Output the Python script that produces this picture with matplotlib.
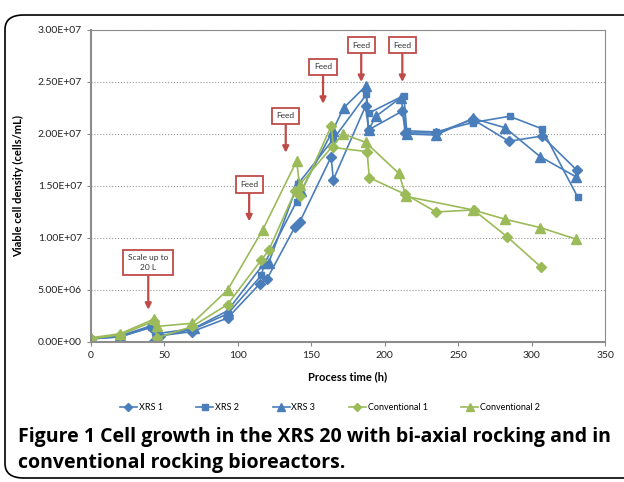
import matplotlib
matplotlib.use('Agg')
import matplotlib.pyplot as plt
import matplotlib.ticker as ticker
from matplotlib.patches import FancyBboxPatch

plt.rcParams['font.family'] = ['Lato', 'DejaVu Sans']

# Data (time in h, density in cells/mL)
xrs1_t = [0, 20, 41, 43, 47, 69, 93, 115, 120, 139, 142, 163.5, 165, 187, 189, 212, 214, 235, 260, 284.5, 307, 331]
xrs1_v = [0.3e6, 0.5e6, 1.4e6, 0.1e6, 0.6e6, 1.0e6, 2.3e6, 5.6e6, 6.1e6, 11.1e6, 11.5e6, 17.8e6, 15.6e6,
          22.7e6, 20.4e6, 22.2e6, 20.1e6, 20.1e6, 21.4e6, 19.3e6, 19.8e6, 16.5e6]

xrs2_t = [0, 20, 41, 44, 69, 93, 116, 118, 140, 141, 165, 187.5, 189, 213, 215, 235, 260, 285, 307, 331.5]
xrs2_v = [0.3e6, 0.5e6, 1.5e6, 0.5e6, 1.2e6, 2.7e6, 6.4e6, 7.5e6, 13.5e6, 15.2e6, 19.5e6, 23.8e6, 22.0e6,
          23.7e6, 20.3e6, 20.2e6, 21.1e6, 21.7e6, 20.5e6, 13.9e6]

xrs3_t = [0, 20, 42, 45, 70, 93, 118, 121, 141, 143, 164.5, 172, 187, 189, 194, 211, 215, 235, 260, 282, 306, 330]
xrs3_v = [0.3e6, 0.6e6, 1.6e6, 0.8e6, 1.3e6, 3.0e6, 7.6e6, 7.6e6, 15.3e6, 14.5e6, 20.3e6, 22.5e6, 24.6e6,
          20.4e6, 21.7e6, 23.5e6, 20.0e6, 19.9e6, 21.5e6, 20.6e6, 17.8e6, 15.9e6]

conv1_t = [0, 20, 43, 45, 69, 93, 116, 121, 139, 142, 163.7, 165, 188, 189.5, 214, 235, 260.5, 283.5, 306.5]
conv1_v = [0.3e6, 0.7e6, 2.0e6, 0.4e6, 1.5e6, 3.6e6, 7.9e6, 8.8e6, 14.5e6, 14.0e6, 20.8e6, 18.7e6, 18.3e6,
           15.8e6, 14.2e6, 12.5e6, 12.7e6, 10.1e6, 7.2e6]

conv2_t = [0, 20, 43, 45, 69, 93, 117, 140, 142, 171.5, 187, 209.7, 214.5, 260, 282, 306, 330]
conv2_v = [0.4e6, 0.8e6, 2.2e6, 1.5e6, 1.8e6, 5.0e6, 10.8e6, 17.4e6, 15.1e6, 20.0e6, 19.2e6, 16.2e6,
           14.0e6, 12.7e6, 11.8e6, 11.0e6, 9.9e6]

# Annotations: label, arrow tip (time, density)
note_labels = ['Scale up to\n20 L', 'Feed', 'Feed', 'Feed', 'Feed', 'Feed']
note_t = [39, 107.7, 132.6, 158, 184, 212]
note_v = [3.1e6, 11.6e6, 18.2e6, 22.9e6, 25.0e6, 25.0e6]

blue = '#4A7EBB'
green = '#9BBB59'
red = '#BE4B48'

fig = plt.figure(figsize=(6.24, 4.82), dpi=100)
ax = fig.add_axes([0.1458, 0.2905, 0.8238, 0.6473])

ax.plot(xrs1_t, xrs1_v, color=blue, marker='D', markersize=5, lw=1.2, label='XRS 1')
ax.plot(xrs2_t, xrs2_v, color=blue, marker='s', markersize=5, lw=1.2, label='XRS 2')
ax.plot(xrs3_t, xrs3_v, color=blue, marker='^', markersize=6.5, lw=1.2, label='XRS 3')
ax.plot(conv1_t, conv1_v, color=green, marker='D', markersize=5, lw=1.2, label='Conventional 1')
ax.plot(conv2_t, conv2_v, color=green, marker='^', markersize=6.5, lw=1.2, label='Conventional 2')

for lab, t, v in zip(note_labels, note_t, note_v):
    off = 28 if '\n' in lab else 24
    ax.annotate(lab, xy=(t, v), xytext=(0, off), textcoords='offset points',
                ha='center', va='bottom', fontsize=6, color='#333333', linespacing=1.4,
                bbox=dict(boxstyle='square,pad=0.55', fc='white', ec=red, lw=1.3),
                arrowprops=dict(arrowstyle='-|>', color=red, lw=1.6, mutation_scale=9,
                                shrinkA=0, shrinkB=0))

ax.set_xlim(0, 350)
ax.set_ylim(0, 3.0e7)
ax.xaxis.set_major_locator(ticker.MultipleLocator(50))
ax.yaxis.set_major_locator(ticker.MultipleLocator(5e6))
ax.yaxis.set_major_formatter(ticker.FuncFormatter(lambda y, _: f'{y:.2E}'))
ax.tick_params(labelsize=7.5, colors='#222222', length=3, color='#888888')
ax.grid(axis='y', linestyle=':', color='#999999', lw=0.8)
ax.set_axisbelow(True)
for s in ax.spines.values():
    s.set_color('#8C8C8C')
ax.spines['bottom'].set_linewidth(1.5)
ax.spines['left'].set_linewidth(1.5)

ax.set_xlabel('Process time (h)', fontsize=8, fontweight='bold', labelpad=8)
ax.set_ylabel('Viable cell density (cells/mL)', fontsize=8, fontweight='bold', labelpad=10)

ax.legend(loc='upper center', bbox_to_anchor=(0.465, -0.17), ncol=5, frameon=False,
          fontsize=6.5, handlelength=1.9, columnspacing=3.7, handletextpad=0.2,
          markerscale=0.8)

# outer rounded frame
frame = FancyBboxPatch((5 / 624, 4 / 482), 640 / 624, 463 / 482,
                       boxstyle='round,pad=0,rounding_size=0.03',
                       transform=fig.transFigure, fill=False, ec='black', lw=1.2, clip_on=False)
fig.patches.append(frame)

fig.text(18 / 624, 1 - 437 / 482, 'Figure 1 Cell growth in the XRS 20 with bi-axial rocking and in',
         fontsize=14, fontweight='bold', va='center', family=['Open Sans', 'DejaVu Sans'])
fig.text(18 / 624, 1 - 463 / 482, 'conventional rocking bioreactors.',
         fontsize=14, fontweight='bold', va='center', family=['Open Sans', 'DejaVu Sans'])

fig.savefig('out.png', dpi=100)
